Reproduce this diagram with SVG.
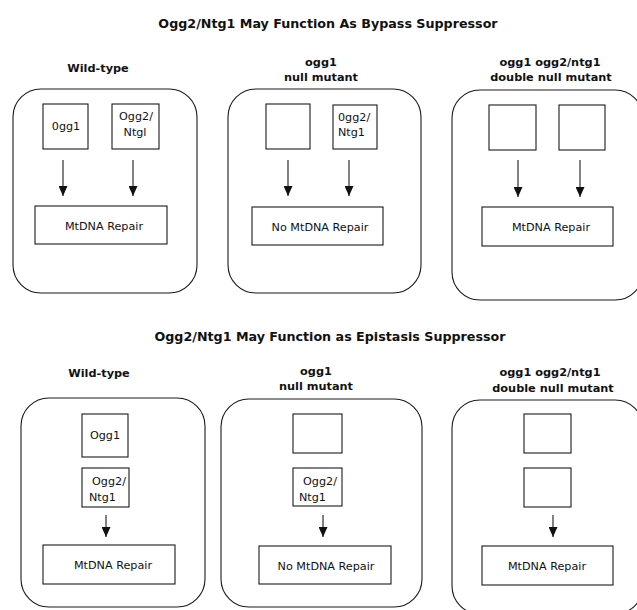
<svg xmlns="http://www.w3.org/2000/svg" width="637" height="610" viewBox="0 0 637 610">
<style>
.bg{fill:#fff}
.panel{fill:none;stroke:#1a1a1a;stroke-width:1.1}
.box{fill:#fff;stroke:#1a1a1a;stroke-width:1.1}
.title{font-family:"DejaVu Sans",Verdana,sans-serif;font-weight:bold;font-size:12.7px;fill:#111;text-anchor:middle}
.hdr{font-family:"DejaVu Sans",Verdana,sans-serif;font-weight:bold;font-size:11.3px;fill:#111;text-anchor:middle}
.lbl{font-family:"DejaVu Sans",Verdana,sans-serif;font-size:11.2px;fill:#111}
.c{text-anchor:middle}
.conn{stroke:#1a1a1a;stroke-width:1.1;fill:none;marker-end:url(#ah)}
</style>
<defs>
<marker id="ah" viewBox="0 0 10 9" refX="10" refY="4.5" markerWidth="10" markerHeight="9" markerUnits="userSpaceOnUse" orient="auto">
<path d="M0,0 L10,4.5 L0,9 z" fill="#111"/>
</marker>
</defs>
<rect class="bg" x="0" y="0" width="637" height="610"/>

<text class="title" x="328" y="28">Ogg2/Ntg1 May Function As Bypass Suppressor</text>
<text class="title" x="330" y="341">Ogg2/Ntg1 May Function as Epistasis Suppressor</text>

<!-- Top row headers -->
<text class="hdr" x="98" y="72">Wild-type</text>
<text class="hdr" x="321" y="66">ogg1</text>
<text class="hdr" x="321" y="81">null mutant</text>
<text class="hdr" x="550" y="66">ogg1 ogg2/ntg1</text>
<text class="hdr" x="551" y="81">double null mutant</text>

<!-- Bottom row headers -->
<text class="hdr" x="99" y="377">Wild-type</text>
<text class="hdr" x="316" y="375">ogg1</text>
<text class="hdr" x="316" y="390">null mutant</text>
<text class="hdr" x="550" y="376">ogg1 ogg2/ntg1</text>
<text class="hdr" x="553" y="392">double null mutant</text>

<!-- Top panels -->
<g id="top-wildtype">
<rect class="panel" x="13" y="89" width="184" height="204" rx="28" ry="28"/>
</g>
<g id="top-ogg1-box"><rect class="box" x="43" y="104" width="45" height="45"/><text class="lbl c" x="66" y="130">0gg1</text></g>
<g id="top-ogg2-box"><rect class="box" x="112" y="104" width="47" height="45"/><text class="lbl c" x="136" y="120">Ogg2/</text><text class="lbl c" x="135" y="136">Ntgl</text></g>
<g id="top-wt-repair"><rect class="box" x="35" y="206" width="132" height="38"/><text class="lbl c" x="104" y="230">MtDNA Repair</text></g>

<g id="top-null">
<rect class="panel" x="228" y="89" width="193" height="204" rx="28" ry="28"/>
</g>
<g id="top-null-empty"><rect class="box" x="266" y="104" width="44" height="45"/></g>
<g id="top-null-ogg2"><rect class="box" x="333" y="105" width="44" height="44"/><text class="lbl" x="338" y="121">0gg2/</text><text class="lbl" x="338" y="136">Ntg1</text></g>
<g id="top-null-repair"><rect class="box" x="252" y="207" width="131" height="38"/><text class="lbl c" x="320" y="231">No MtDNA Repair</text></g>

<g id="top-double">
<rect class="panel" x="452" y="90" width="191" height="210" rx="28" ry="28"/>
</g>
<g id="top-double-empty1"><rect class="box" x="489" y="105" width="47" height="45"/></g>
<g id="top-double-empty2"><rect class="box" x="559" y="105" width="46" height="45"/></g>
<g id="top-double-repair"><rect class="box" x="482" y="207" width="131" height="39"/><text class="lbl c" x="551" y="231">MtDNA Repair</text></g>

<!-- Bottom panels -->
<g id="bot-wildtype">
<rect class="panel" x="21" y="398" width="184" height="209" rx="28" ry="28"/>
</g>
<g id="bot-ogg1-box"><rect class="box" x="82" y="414" width="46" height="43"/><text class="lbl c" x="105" y="439">Ogg1</text></g>
<g id="bot-ogg2-box"><rect class="box" x="82" y="468" width="47" height="39"/><text class="lbl" x="92" y="485">Ogg2/</text><text class="lbl" x="89" y="501">Ntg1</text></g>
<g id="bot-wt-repair"><rect class="box" x="43" y="545" width="132" height="39"/><text class="lbl c" x="113" y="569">MtDNA Repair</text></g>

<g id="bot-null">
<rect class="panel" x="221" y="399" width="201" height="208" rx="28" ry="28"/>
</g>
<g id="bot-null-empty"><rect class="box" x="293" y="414" width="49" height="39"/></g>
<g id="bot-null-ogg2"><rect class="box" x="293" y="468" width="49" height="38"/><text class="lbl" x="303" y="485">Ogg2/</text><text class="lbl" x="299" y="501">Ntg1</text></g>
<g id="bot-null-repair"><rect class="box" x="259" y="546" width="132" height="38"/><text class="lbl c" x="326" y="570">No MtDNA Repair</text></g>

<g id="bot-double">
<rect class="panel" x="452" y="400" width="191" height="214" rx="28" ry="28"/>
</g>
<g id="bot-double-empty1"><rect class="box" x="524" y="414" width="47" height="39"/></g>
<g id="bot-double-empty2"><rect class="box" x="524" y="468" width="47" height="39"/></g>
<g id="bot-double-repair"><rect class="box" x="482" y="546" width="131" height="39"/><text class="lbl c" x="547" y="570">MtDNA Repair</text></g>

<g id="connectors">
<line class="conn" x1="63" y1="160" x2="63" y2="196"/>
<line class="conn" x1="133" y1="160" x2="133" y2="196"/>
<line class="conn" x1="288" y1="160" x2="288" y2="196"/>
<line class="conn" x1="349" y1="160" x2="349" y2="196"/>
<line class="conn" x1="518" y1="160" x2="518" y2="197"/>
<line class="conn" x1="580" y1="160" x2="580" y2="197"/>
<line class="conn" x1="106" y1="515" x2="106" y2="537"/>
<line class="conn" x1="323" y1="515" x2="323" y2="537"/>
<line class="conn" x1="553" y1="515" x2="553" y2="537"/>
</g>
</svg>
